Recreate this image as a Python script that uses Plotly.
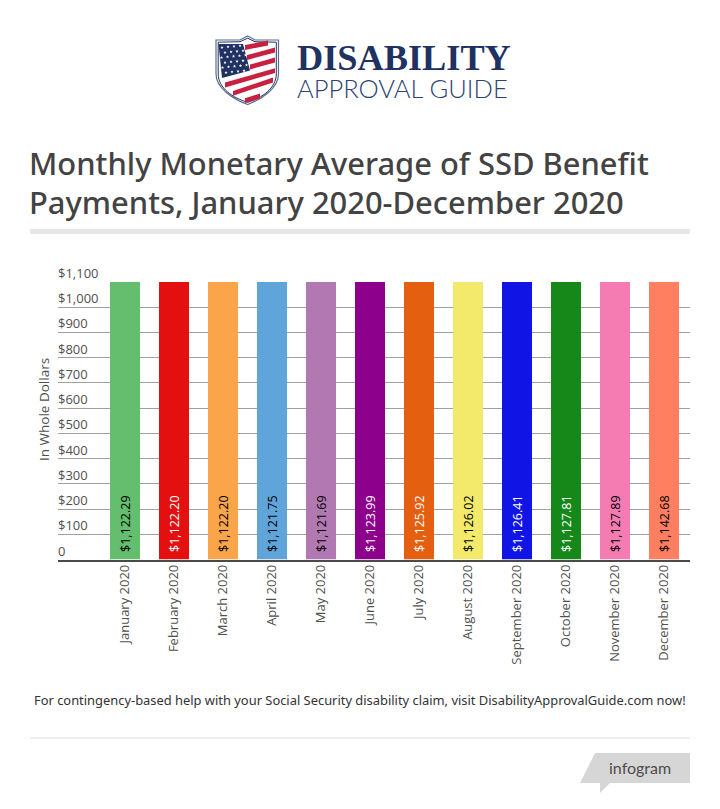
import math
import plotly.graph_objects as go

W, H = 720, 809
categories = ["January 2020","February 2020","March 2020","April 2020","May 2020","June 2020",
              "July 2020","August 2020","September 2020","October 2020","November 2020","December 2020"]
values = [1122.29,1122.20,1122.20,1121.75,1121.69,1123.99,1125.92,1126.02,1126.41,1127.81,1127.89,1142.68]
bar_colors = ["#64BE6E","#E3100F","#FBA54A","#60A5DA","#B278B2","#8C008C",
              "#E45F10","#F3E96B","#1015E6","#16881A","#F47CB2","#FF7F60"]
label_colors = ["#000","#fff","#000","#000","#000","#fff","#fff","#000","#fff","#fff","#000","#000"]
tick_vals = [0,100,200,300,400,500,600,700,800,900,1000,1100]
tick_text = ["0","$100","$200","$300","$400","$500","$600","$700","$800","$900","$1,000","$1,100"]
title_lines = ["Monthly Monetary Average of SSD Benefit", "Payments, January 2020-December 2020"]
footer = "For contingency-based help with your Social Security disability claim, visit DisabilityApprovalGuide.com now!"

def P(pts, close=True):
    s = "M" + " L".join(f"{x/W:.5f},{1-y/H:.5f}" for x, y in pts)
    return s + (" Z" if close else "")

def C(cmds):
    return " ".join(c if isinstance(c, str) else f"{c[0]/W:.5f},{1-c[1]/H:.5f}" for c in cmds)

shapes = []
def add_path(path, fill=None, line=None, lw=0):
    shapes.append(dict(type="path", xref="paper", yref="paper", path=path,
                       fillcolor=fill or "rgba(0,0,0,0)",
                       line=dict(color=line or "rgba(0,0,0,0)", width=lw), layer="above"))

def rect(x0, y0, x1, y1, fill):
    add_path(P([(x0,y0),(x1,y0),(x1,y1),(x0,y1)]), fill)

# page furniture
rect(30, 229, 690, 234, "#E6E6E6")
rect(30, 737.5, 690, 738.5, "#DDDDDD")
add_path(P([(595,753),(690,753),(690,783),(610,783),(600,793),(600,783),(580,783)]), "#D6D6D6")

# logo shield
NAVY = "#1F3262"; RED = "#C8203F"
def shield(i):
    return C(["M",(247.7,36+i),"L",(255,40+i*0.8),"L",(278.5-i,40+i),"L",(278.5-i,74),
              "C",(278.5-i,88),(262,99-i*0.4),(247.7,104.5-i),
              "C",(233,99-i*0.4),(216+i,88),(216+i,74),"L",(216+i,40+i),"L",(240,40+i*0.8),"Z"])
add_path(shield(0), "#FFFFFF", "#5A6C95", 1.2)
add_path(shield(2.2), "#FFFFFF", NAVY, 1)
for (x0,y0),(x1,y1) in [((245,47.5),(268,43)),((247,57.5),(275,50)),((250,67),(275,60)),
                        ((225,85),(275,70.7)),((233,93.3),(273,80)),((245,100.7),(260,96))]:
    h = 2.4
    add_path(P([(x0,y0-h),(x1,y1-h),(x1,y1+h),(x0,y0+h)]), RED)
add_path(P([(218.5,44),(243,44),(250,70.5),(222,78)]), NAVY)
def star(cx, cy, r=1.7):
    pts = []
    for k in range(10):
        rr = r if k % 2 == 0 else r*0.42
        a = -math.pi/2 + k*math.pi/5
        pts.append((cx+rr*math.cos(a), cy+rr*math.sin(a)))
    return P(pts)
for rowi, (sx, sy, n) in enumerate([(222,47.5,4),(225,52.5,4),(221.5,57.5,5),(225,62.5,4),(222.5,67.5,5),(226,72.5,4)]):
    for k in range(n):
        add_path(star(sx+k*6, sy-k*0.6), "#FFFFFF")

fig = go.Figure(go.Bar(
    x=categories, y=values, width=30/49,
    marker=dict(color=bar_colors, line_width=0),
    cliponaxis=True, hoverinfo="skip",
))

ann = []
def T(x, y, s, size, color, family, anchor="left", weight=None, **kw):
    f = dict(family=family, size=size, color=color)
    if weight: f["weight"] = weight
    ann.append(dict(xref="paper", yref="paper", x=x/W, y=1-y/H, text=s, showarrow=False,
                    xanchor=anchor, yanchor="middle", font=f, **kw))

T(26.5, 163, title_lines[0], 30.9, "#434343", "Noto Sans", weight=500)
T(26.5, 202, title_lines[1], 30.9, "#434343", "Noto Sans", weight=500)
T(360, 700, footer, 12.9, "#333333", "Noto Sans", "center")
T(640, 767, "infogram", 16, "#4D4D4D", "Lato", "center")
T(295, 58, "DISABILITY", 36.3, NAVY, "Liberation Serif", weight=700)
T(295, 88, "APPROVAL GUIDE", 25.5, "#2E4373", "Lato", weight=300)
T(44, 410, "In Whole Dollars", 13.5, "#505050", "Open Sans", "center", textangle=-90)

# y tick labels sit above their gridlines at the left end of the plot
for v, s in zip(tick_vals, tick_text):
    ann.append(dict(xref="paper", yref="y", x=56/W, y=v, yshift=9, text=s, showarrow=False,
                    xanchor="left", yanchor="middle",
                    font=dict(family="Open Sans", size=13, color="#505050")))
# value labels at the foot of each bar
for c, v, col in zip(categories, values, label_colors):
    ann.append(dict(xref="x", yref="y", x=c, y=0, yshift=5, text=f"${v:,.2f}", showarrow=False,
                    textangle=-90, xanchor="center", yanchor="bottom",
                    font=dict(family="Open Sans", size=12.5, color=col)))

fig.update_layout(
    width=W, height=H, margin=dict(l=0, r=0, t=0, b=0, autoexpand=False),
    paper_bgcolor="#fff", plot_bgcolor="#fff", showlegend=False,
    shapes=shapes, annotations=ann,
    xaxis=dict(domain=[58/W, 690/W], range=[(58-125)/49, (690-125)/49], type="category",
               tickangle=-90, ticks="", showgrid=False, showline=True, linecolor="#4A4A4A", linewidth=2,
               ticklabelstandoff=-2,
               tickfont=dict(family="Open Sans", size=13, color="#505050"), automargin=False),
    yaxis=dict(domain=[1-559.5/H, 1-282/H], range=[0,1100], tickvals=tick_vals, showticklabels=False,
               ticks="", showline=False, zeroline=False,
               showgrid=True, gridcolor="#A0A0A0", gridwidth=1, automargin=False),
)
fig.write_html("out.html", config=dict(displayModeBar=False),
               post_script="document.body.style.margin='0';document.documentElement.style.overflow='hidden';")
